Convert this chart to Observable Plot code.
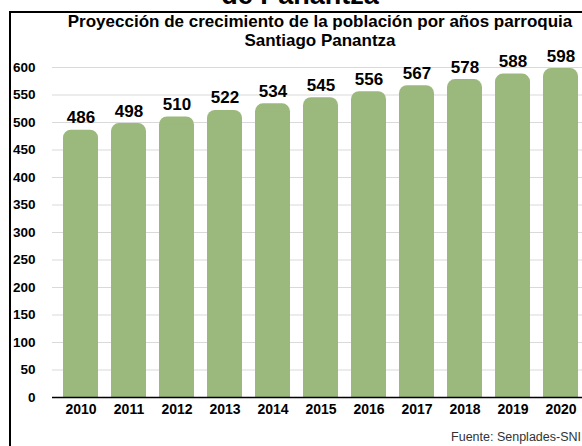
<!DOCTYPE html>
<html>
<head>
<meta charset="utf-8">
<script src="https://cdn.jsdelivr.net/npm/d3@7"></script>
<script src="https://cdn.jsdelivr.net/npm/@observablehq/plot@0.6"></script>
<style>
  html, body { margin: 0; padding: 0; background: #fff; }
  #wrap { position: relative; width: 582px; height: 446px; overflow: hidden; font-family: "Liberation Sans", Arial, sans-serif; }
  #chart { position: absolute; left: 0; top: 0; }
  .frame { position: absolute; left: 9px; top: 11px; width: 700px; height: 600px; border-left: 2px solid #000; border-top: 2px solid #000; pointer-events: none; }
  .sup { position: absolute; left: 0; width: 600px; text-align: center; top: -18px; font-size: 27px; line-height: 27px; font-weight: bold; color: #000; }
  .title { position: absolute; left: 0; width: 640px; text-align: center; top: 11.6px; font-size: 17px; line-height: 19px; font-weight: bold; color: #000; }
  .source { position: absolute; right: 1px; top: 431px; font-size: 12.5px; line-height: 12.5px; color: #333; }
</style>
</head>
<body>
<div id="wrap">
  <div id="chart"></div>
  <div class="sup">de Panantza</div>
  <div class="frame"></div>
  <div class="title">Proyección de crecimiento de la población por años parroquia<br>Santiago Panantza</div>
  <div class="source">Fuente: Senplades-SNI</div>
</div>
<script>
const years = ["2010","2011","2012","2013","2014","2015","2016","2017","2018","2019","2020"];
const population = [486, 498, 510, 522, 534, 545, 556, 567, 578, 588, 598];
const yTicks = [0, 50, 100, 150, 200, 250, 300, 350, 400, 450, 500, 550, 600];

const data = years.map((year, i) => ({year, value: population[i]}));
const green = "#9bb97d";

const chart = Plot.plot({
  width: 582,
  height: 446,
  marginTop: 67,
  marginBottom: 49,
  marginLeft: 52,
  marginRight: 0,
  style: {background: "transparent", fontFamily: "Liberation Sans, Arial, sans-serif", color: "#000", overflow: "visible"},
  x: {domain: years, range: [46, 595], padding: 0.28},
  y: {domain: [0, 600]},
  marks: [
    Plot.gridY(yTicks, {stroke: "#d9d9d9", strokeOpacity: 1, strokeWidth: 1}),
    Plot.barY(data, {x: "year", y: "value", fill: green, rx: 8}),
    Plot.barY(data, {x: "year", y1: 0, y2: d => d.value - 15, fill: green}),
    Plot.ruleY([0], {stroke: "#000", strokeWidth: 1.5}),
    Plot.text(data, {x: "year", y: "value", text: d => String(d.value), lineAnchor: "bottom", dy: -7, fontSize: 17, fontWeight: "bold", fill: "#000"}),
    Plot.axisY({ticks: yTicks, tickSize: 0, tickPadding: 17, fontSize: 13.5, fontWeight: "bold", label: null}),
    Plot.axisX({tickSize: 0, tickPadding: 7, fontSize: 14, fontWeight: "bold", label: null})
  ]
});
document.getElementById("chart").appendChild(chart);
</script>
</body>
</html>
